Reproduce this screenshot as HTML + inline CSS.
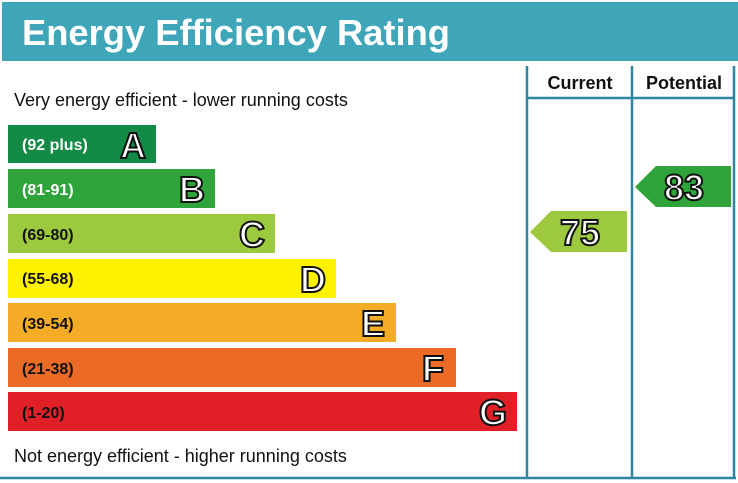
<!DOCTYPE html>
<html><head><style>body{margin:0;background:#fff}svg{display:block}</style></head><body>
<svg width="738" height="483" xmlns="http://www.w3.org/2000/svg" font-family="Liberation Sans, sans-serif">
<rect x="2" y="2" width="736" height="59" fill="#3fa5b8"/>
<text x="22" y="45" font-size="36" font-weight="bold" fill="#fff" textLength="428" lengthAdjust="spacingAndGlyphs">Energy Efficiency Rating</text>
<g stroke="#2e86a0" stroke-width="2.5" fill="none">
<line x1="527" y1="66" x2="527" y2="479"/>
<line x1="632" y1="66" x2="632" y2="479"/>
<line x1="734" y1="66" x2="734" y2="479"/>
<line x1="527" y1="98" x2="734" y2="98"/>
<line x1="0" y1="478" x2="736" y2="478"/>
</g>
<text x="580" y="89" font-size="18" font-weight="bold" text-anchor="middle" fill="#111">Current</text>
<text x="684" y="89" font-size="18" font-weight="bold" text-anchor="middle" fill="#111">Potential</text>
<text x="14" y="106" font-size="18" fill="#111">Very energy efficient - lower running costs</text>
<text x="14" y="462" font-size="18" fill="#111">Not energy efficient - higher running costs</text>
<g font-size="16" font-weight="bold" fill="#fff">
<rect x="8" y="125" width="148" height="38" fill="#138a45"/><text x="22" y="150">(92 plus)</text>
<rect x="8" y="169" width="207" height="39" fill="#2ea43a"/><text x="22" y="195">(81-91)</text>
<rect x="8" y="214" width="267" height="39" fill="#9dc93e"/><text x="22" y="240" fill="#111">(69-80)</text>
<rect x="8" y="259" width="328" height="39" fill="#fff200"/><text x="22" y="284" fill="#111">(55-68)</text>
<rect x="8" y="303" width="388" height="39" fill="#f4ac27"/><text x="22" y="329" fill="#111">(39-54)</text>
<rect x="8" y="348" width="448" height="39" fill="#ea6a26"/><text x="22" y="374" fill="#111">(21-38)</text>
<rect x="8" y="392" width="509" height="39" fill="#e01f26"/><text x="22" y="418" fill="#111">(1-20)</text>
</g>
<g font-size="36" font-weight="bold" fill="#fff" stroke="#111" stroke-width="2" text-anchor="end">
<text x="146" y="158">A</text>
<text x="205" y="202">B</text>
<text x="265" y="247">C</text>
<text x="326" y="292">D</text>
<text x="385" y="336">E</text>
<text x="444" y="381">F</text>
<text x="507" y="425">G</text>
</g>
<polygon points="530,232 551,211 627,211 627,252 551,252" fill="#9dc93e"/>
<polygon points="635,187 656,166 731,166 731,207 656,207" fill="#2ea43a"/>
<g font-size="36" font-weight="bold" fill="#fff" stroke="#111" stroke-width="2" text-anchor="middle">
<text x="580" y="245">75</text>
<text x="684" y="200">83</text>
</g>
</svg>
</body></html>
